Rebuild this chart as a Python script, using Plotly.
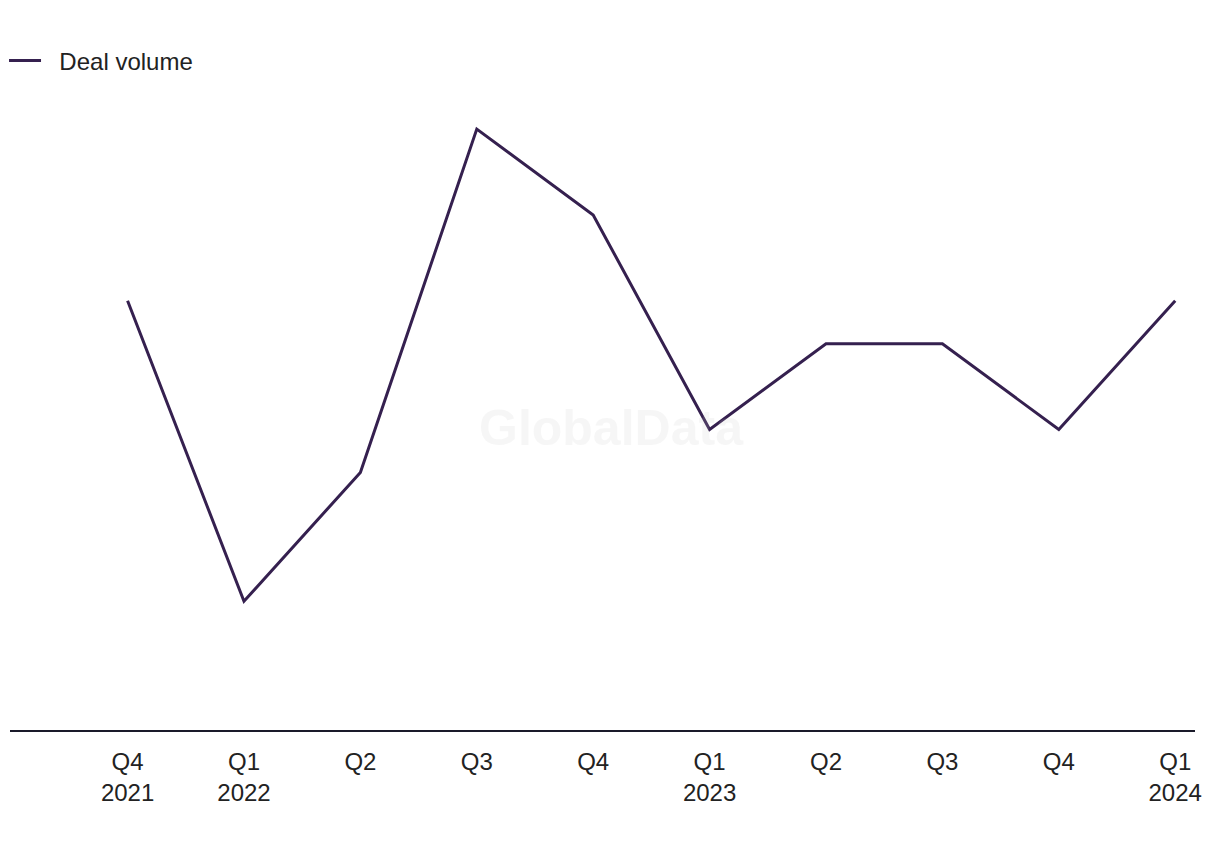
import plotly.graph_objects as go

quarters = ["Q4<br>2021", "Q1<br>2022", "Q2", "Q3", "Q4", "Q1<br>2023", "Q2", "Q3", "Q4", "Q1<br>2024"]
deal_volume = [10, 3, 6, 14, 12, 7, 9, 9, 7, 10]
x_idx = list(range(len(quarters)))

LINE_COLOR = "#35204f"
FONT = "Liberation Sans, Arial, sans-serif"

fig = go.Figure()
fig.add_trace(go.Scatter(
    x=x_idx, y=deal_volume, mode="lines", name="\u00a0\u00a0Deal volume",
    line=dict(color=LINE_COLOR, width=3),
))

fig.add_annotation(
    text="<b>GlobalData</b>", xref="paper", yref="paper", x=0.508, y=0.475,
    showarrow=False, font=dict(family=FONT, size=50, color="rgba(200,200,200,0.16)"),
)

fig.update_layout(
    width=1220, height=850,
    margin=dict(l=10, r=25, t=85, b=120),
    paper_bgcolor="white", plot_bgcolor="white",
    font=dict(family=FONT, size=24, color="#222222"),
    showlegend=True,
    legend=dict(
        orientation="h", xref="container", yref="container",
        x=0.0033, xanchor="left", y=1 - 61 / 850, yanchor="middle",
        itemwidth=32, font=dict(size=24, color="#222222"),
        bgcolor="rgba(0,0,0,0)",
    ),
    xaxis=dict(
        range=[-1.01, 9.17], tickmode="array", tickvals=x_idx, ticktext=quarters,
        showgrid=False, zeroline=False, showline=True, linecolor="#1a1a2a", linewidth=2,
        ticks="", tickfont=dict(size=24, color="#222222"), ticklabelstandoff=9,
    ),
    yaxis=dict(
        range=[0, 14.83], showgrid=False, zeroline=False, showline=False,
        showticklabels=False, ticks="",
    ),
)

fig.write_html("out.html")
